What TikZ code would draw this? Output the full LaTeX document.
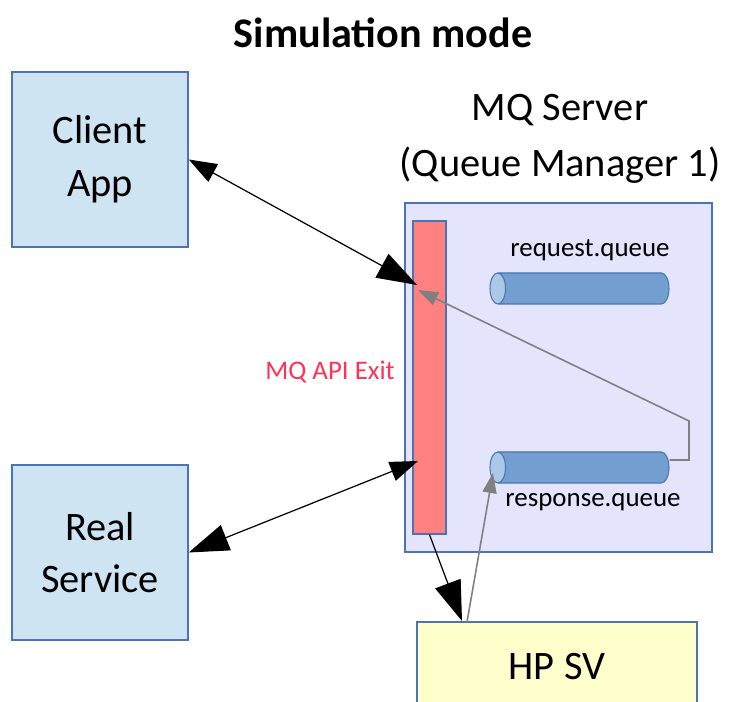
\documentclass[tikz,border=0pt]{standalone}
\usepackage{fontspec}
\setmainfont{Carlito}
\usetikzlibrary{arrows.meta,shapes.geometric}
\definecolor{boxfill}{RGB}{207,228,242}
\definecolor{boxline}{RGB}{74,116,178}
\definecolor{mqfill}{RGB}{228,228,252}
\definecolor{exitfill}{RGB}{255,128,128}
\definecolor{exittext}{RGB}{255,51,85}
\definecolor{qfill}{RGB}{114,159,207}
\definecolor{qend}{RGB}{172,200,232}
\definecolor{hpfill}{RGB}{255,255,204}
\definecolor{retline}{RGB}{128,128,128}
\tikzset{
    bighead/.tip={Triangle[length=8mm,width=5.4mm]},
    smallhead/.tip={Triangle[length=5.6mm,width=4mm]},
    grayhead/.tip={Triangle[length=4mm,width=2.8mm]},
    bigfont/.style={font=\fontsize{23}{30}\selectfont},
    smallfont/.style={font=\fontsize{15.3}{18}\selectfont},
    appbox/.style={draw=boxline,line width=0.8pt,fill=boxfill,minimum width=3.52cm,minimum height=3.5cm,align=center,bigfont},
    queue/.style={cylinder,shape border rotate=180,shape aspect=0.5,draw=boxline,line width=0.6pt,cylinder uses custom fill,cylinder body fill=qfill,cylinder end fill=qend,minimum height=3.58cm,inner xsep=0pt,inner ysep=0.31cm,anchor=shape center},
    link/.style={line width=0.7pt},
    retlink/.style={draw=retline,line width=0.9pt,-grayhead}
}
\begin{document}
\begin{tikzpicture}
                \clip (0,0) rectangle (14.6,-14.04);
                \node[font=\fontsize{24}{28}\selectfont\bfseries] (title) at (7.66,-0.66) {Simulation mode};

                \node[appbox] (client) at (2.0,-3.19) {Client\\App};
                \node[appbox] (real) at (2.0,-11.05) {Real\\Service};

                \node[bigfont,align=center,font=\fontsize{23}{32}\selectfont] (mqname) at (11.2,-2.77) {MQ Server\\(Queue Manager 1)};
                \node[draw=boxline,line width=0.8pt,fill=mqfill,minimum width=6.14cm,minimum height=6.98cm] (mq) at (11.17,-7.55) {};
                \node[draw=boxline,line width=0.8pt,fill=exitfill,minimum width=0.66cm,minimum height=6.26cm] (exit) at (8.59,-7.55) {};
                \node[smallfont,text=exittext] (exitname) at (6.6,-7.44) {MQ API Exit};

                \node[queue] (reqq) at (11.59,-5.77) {};
                \node[smallfont] (reqname) at (11.8,-5.0) {request.queue};
                \node[queue] (respq) at (11.59,-9.35) {};
                \node[smallfont] (respname) at (11.86,-10.04) {response.queue};

                \node[draw=boxline,line width=0.8pt,fill=hpfill,minimum width=5.6cm,minimum height=1.8cm,bigfont] (hpsv) at (11.14,-13.34) {HP SV};

                \coordinate (exitc) at (8.34,-5.70);
                \coordinate (exitq) at (8.36,-5.80);
                \coordinate (exitr) at (8.36,-9.22);
                \coordinate (hpin) at (9.24,-12.42);
                \coordinate (hpout) at (9.34,-12.44);
                \coordinate (respin) at (9.86,-9.46);
                \coordinate (bendlow) at (13.78,-9.20);
                \coordinate (bendhigh) at (13.78,-8.42);

                \draw[link,smallhead-bighead] (client.east) to (exitc);
                \draw[link,bighead-smallhead] (real.east) to (exitr);
                \draw[link,-bighead] (exit.south) to (hpin);
                \draw[retlink] (hpout) to (respin);
                \draw[retlink] (respq.east |- bendlow) -- (bendlow) -- (bendhigh) -- (exitq);
\end{tikzpicture}
\end{document}
